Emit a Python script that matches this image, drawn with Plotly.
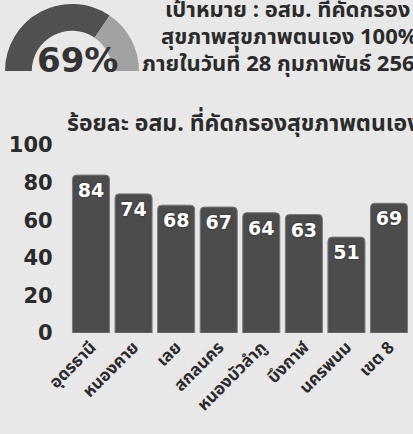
import plotly.graph_objects as go

categories = ["อุดรธานี", "หนองคาย", "เลย", "สกลนคร", "หนองบัวลำภู", "บึงกาฬ", "นครพนม", "เขต 8"]
values = [84, 74, 68, 67, 64, 63, 51, 69]
y_ticks = [0, 20, 40, 60, 80, 100]
gauge_value = 69
chart_title = "ร้อยละ อสม. ที่คัดกรองสุขภาพตนเอง"
header_lines = ["เป้าหมาย : อสม. ที่คัดกรอง", "สุขภาพสุขภาพตนเอง 100%", "ภายในวันที่ 28 กุมภาพันธ์ 2564"]

W, H = 413, 434
FONT = "Noto Sans Thai, Noto Sans, Open Sans, sans-serif"
NUMFONT = "DejaVu Sans, sans-serif"
DARK = "#2b2b2b"
BAR = "#4c4c4c"
BG = "#e8e8e8"

def px_x(p):
    return p / W

def px_y(p):
    return 1 - p / H

fig = go.Figure()

fig.add_trace(go.Bar(
    x=categories, y=values, text=[str(v) for v in values],
    textposition="inside", insidetextanchor="end", constraintext="none",
    textfont=dict(color="white", size=19, family=NUMFONT, weight="bold",
                  shadow="0px 0px 2px #222"),
    marker=dict(color=BAR, line=dict(color="#7a7a7a", width=1)),
    cliponaxis=False, showlegend=False, hoverinfo="skip",
))

# semicircle gauge
cx, cy, r = 72, 71, 67
fig.add_trace(go.Pie(
    values=[gauge_value, 100 - gauge_value, 100], sort=False, direction="clockwise",
    rotation=270, hole=0.6, textinfo="none", showlegend=False, hoverinfo="skip",
    marker=dict(colors=["#505050", "#a2a2a2", "rgba(0,0,0,0)"]),
    domain=dict(x=[px_x(cx - r), px_x(cx + r)], y=[px_y(cy + r), px_y(cy - r)]),
))

annotations = [
    dict(text=f"{gauge_value}%", x=px_x(77), y=px_y(60), xref="paper", yref="paper",
         showarrow=False, font=dict(size=34, color="#333333", family=NUMFONT, weight="bold"),
         xanchor="center", yanchor="middle"),
    dict(text=chart_title, x=px_x(65), y=px_y(124), xref="paper", yref="paper", align="left",
         showarrow=False, font=dict(size=23, color=DARK, family=FONT, weight="bold"),
         xanchor="left", yanchor="middle"),
]
# (x, y, anchor): lines 1-2 anchored at their left end, line 3 at its right end (runs past the edge)
header_pos = [(163, 11, "left"), (159, 38, "left"), (430, 65, "right")]
for line, (hx, hy, anc) in zip(header_lines, header_pos):
    annotations.append(dict(text=line, x=px_x(hx), y=px_y(hy), xref="paper", yref="paper",
                            align=anc, showarrow=False,
                            font=dict(size=22, color=DARK, family=FONT, weight="bold"),
                            xanchor=anc, yanchor="middle"))

fig.update_layout(
    width=W, height=H, margin=dict(l=0, r=0, t=0, b=0),
    paper_bgcolor=BG, plot_bgcolor=BG,
    bargap=0.13, barcornerradius=4,
    xaxis=dict(domain=[px_x(69.7), px_x(410.3)], tickangle=-45, showgrid=False, showline=False,
               zeroline=False, ticks="", automargin=False,
               tickfont=dict(size=17, color=DARK, family=FONT, weight="bold")),
    yaxis=dict(domain=[px_y(333), px_y(145)], range=[0, 100], tickvals=y_ticks, showgrid=False,
               showline=False, zeroline=False, ticks="", ticklabelstandoff=16, automargin=False,
               tickfont=dict(size=21, color=DARK, family=NUMFONT, weight="bold")),
    annotations=annotations,
)

fig.write_html("out.html", config={"displayModeBar": False, "staticPlot": True},
               post_script="document.body.style.margin='0';document.body.style.padding='0';"
                           "document.body.style.overflow='hidden';")
